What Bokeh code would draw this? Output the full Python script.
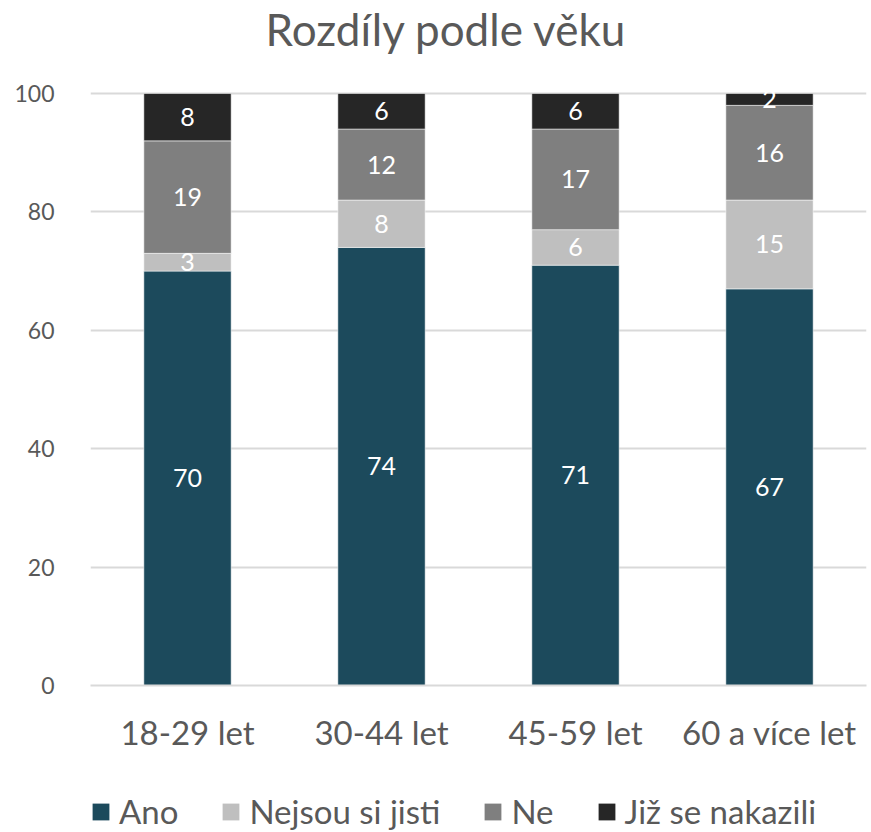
from bokeh.plotting import figure
from bokeh.models import ColumnDataSource, Range1d, Legend, LegendItem, FixedTicker, Label
from bokeh.layouts import column
from bokeh.core.properties import value
from bokeh.embed import file_html
from bokeh.resources import INLINE

title = "Rozdíly podle věku"
categories = ["18-29 let", "30-44 let", "45-59 let", "60 a více let"]
series_names = ["Ano", "Nejsou si jisti", "Ne", "Již se nakazili"]
ano = [70, 74, 71, 67]
nejsou = [3, 8, 6, 15]
ne = [19, 12, 17, 16]
jiz = [8, 6, 6, 2]
colors = ["#1c4a5c", "#bfbfbf", "#7f7f7f", "#262626"]
y_ticks = [0, 20, 40, 60, 80, 100]

FONT = "Lato"
TXT = "#595959"
keys = ["ano", "nejsou", "ne", "jiz"]
src = ColumnDataSource(dict(cat=categories, ano=ano, nejsou=nejsou, ne=ne, jiz=jiz))

# layout (pixels)
W, H = 870, 780
LEFT, RIGHT, BOTTOM = 90, 4, 95
TOP_GAP = 93          # space between figure top and value 100
frame_h = H - BOTTOM
frame_w = W - LEFT - RIGHT
px_per_unit = (frame_h - TOP_GAP) / 100
y_end = frame_h / px_per_unit

p = figure(x_range=categories, y_range=Range1d(0, y_end), width=W, height=H,
           output_backend="svg", toolbar_location=None,
           min_border_left=LEFT, min_border_right=RIGHT, min_border_top=0, min_border_bottom=BOTTOM)

renderers = p.vbar_stack(keys, x="cat", width=0.45, color=colors, source=src,
                         line_color="white", line_width=0.5)

# data labels
for i, k in enumerate(keys):
    bottoms = [sum(src.data[kk][j] for kk in keys[:i]) for j in range(len(categories))]
    vals = src.data[k]
    mids = [b + v / 2 for b, v in zip(bottoms, vals)]
    lsrc = ColumnDataSource(dict(cat=categories, y=mids, t=[str(v) for v in vals]))
    p.text(x="cat", y="y", text="t", source=lsrc, text_color="white",
           text_font=value(FONT), text_font_size="25px",
           text_align="center", text_baseline="middle")

# chart title (inside the top of the frame)
title_cx = (446 - LEFT) / (frame_w / len(categories))
title_cy = (frame_h - 28) / px_per_unit
p.add_layout(Label(x=title_cx, y=title_cy, text=title, text_align="center",
                   text_baseline="middle", text_font=FONT, text_font_size="44px",
                   text_color=TXT))

p.outline_line_color = None
p.xgrid.grid_line_color = None
p.ygrid.grid_line_color = "#d9d9d9"
p.ygrid.grid_line_width = 2
p.yaxis.ticker = FixedTicker(ticks=y_ticks)
p.yaxis.axis_line_color = None
p.yaxis.major_tick_line_color = None
p.yaxis.minor_tick_line_color = None
p.yaxis.major_label_text_font = FONT
p.yaxis.major_label_text_font_size = "23px"
p.yaxis.major_label_text_color = TXT
p.yaxis.major_label_standoff = 30
p.xaxis.axis_line_color = "#d9d9d9"
p.xaxis.axis_line_width = 2
p.xaxis.major_tick_line_color = None
p.xaxis.major_label_text_font = FONT
p.xaxis.major_label_text_font_size = "33px"
p.xaxis.major_label_text_color = TXT
p.xaxis.major_label_standoff = 20

# legend figure below: its bars are drawn transparent (selection / nonselection alpha 0)
# and outside its y range; only the legend (drawn with the normal glyph) shows
leg_src = ColumnDataSource(dict(src.data))
leg_src.selected.indices = [0]
lf = figure(width=W, height=51, x_range=categories, y_range=Range1d(-1000, -999),
            output_backend="svg", toolbar_location=None, x_axis_type=None, y_axis_type=None,
            min_border_left=LEFT, min_border_right=RIGHT, min_border_top=0, min_border_bottom=0)
lf.outline_line_color = None
lrs = lf.vbar_stack(keys, x="cat", width=0.45, fill_color=colors, line_color=None,
                    source=leg_src,
                    selection_fill_alpha=0, nonselection_fill_alpha=0,
                    selection_line_alpha=0, nonselection_line_alpha=0)
legend = Legend(items=[LegendItem(label=n, renderers=[r]) for n, r in zip(series_names, lrs)],
                orientation="horizontal", location=(0, 0),
                label_text_font=FONT, label_text_font_size="33px", label_text_color=TXT,
                glyph_width=21, glyph_height=21, label_standoff=8, spacing=42,
                border_line_color=None, background_fill_alpha=0, margin=0, padding=0)
lf.add_layout(legend, "center")

layout = column(p, lf, spacing=0)
open("out.html", "w").write(file_html(layout, INLINE))
